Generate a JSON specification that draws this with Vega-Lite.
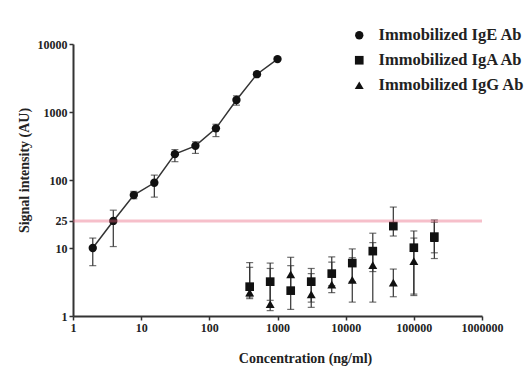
{
  "$schema": "https://vega.github.io/schema/vega-lite/v6.json",
  "autosize": "none",
  "width": 409,
  "height": 272,
  "padding": {"left": 73, "top": 44, "right": 47, "bottom": 53},
  "background": "white",
  "config": {
    "view": {"stroke": null},
    "font": "Liberation Serif",
    "axis": {
      "grid": false,
      "domainColor": "#333",
      "domainWidth": 2,
      "tickColor": "#333",
      "tickWidth": 1.5,
      "tickSize": 4,
      "labelFont": "Liberation Serif",
      "labelFontWeight": "bold",
      "labelFontSize": 12,
      "labelColor": "#222",
      "titleFont": "Liberation Serif",
      "titleFontWeight": "bold",
      "titleFontSize": 14,
      "titleColor": "#222"
    },
    "legend": {
      "labelFont": "Liberation Serif",
      "labelFontWeight": "bold",
      "labelFontSize": 16.5,
      "labelColor": "#222",
      "padding": 0
    }
  },
  "datasets": {
    "pts": [
      {"series": "IgE", "conc": 1.95, "value": 10, "lo": 5.5, "hi": 14},
      {"series": "IgE", "conc": 3.9, "value": 25, "lo": 10.5, "hi": 36},
      {"series": "IgE", "conc": 7.8, "value": 60, "lo": 53, "hi": 68},
      {"series": "IgE", "conc": 15.6, "value": 91, "lo": 56, "hi": 118},
      {"series": "IgE", "conc": 31.25, "value": 240, "lo": 186, "hi": 280},
      {"series": "IgE", "conc": 62.5, "value": 318, "lo": 246, "hi": 365},
      {"series": "IgE", "conc": 125, "value": 575, "lo": 435, "hi": 660},
      {"series": "IgE", "conc": 250, "value": 1500, "lo": 1260, "hi": 1730},
      {"series": "IgE", "conc": 500, "value": 3600, "lo": 3350, "hi": 3850},
      {"series": "IgE", "conc": 1000, "value": 6000, "lo": 5700, "hi": 6300},
      {"series": "IgA", "conc": 390.6, "value": 2.7, "lo": 1.9, "hi": 6.1},
      {"series": "IgA", "conc": 781, "value": 3.2, "lo": 1.7, "hi": 6.0},
      {"series": "IgA", "conc": 1562, "value": 2.36, "lo": 1.25, "hi": 5.5},
      {"series": "IgA", "conc": 3125, "value": 3.2, "lo": 1.6, "hi": 5.0},
      {"series": "IgA", "conc": 6250, "value": 4.2, "lo": 2.8, "hi": 7.4},
      {"series": "IgA", "conc": 12500, "value": 6.0, "lo": 3.2, "hi": 9.7},
      {"series": "IgA", "conc": 25000, "value": 9.0, "lo": 4.5, "hi": 16.5},
      {"series": "IgA", "conc": 50000, "value": 21, "lo": 15, "hi": 40},
      {"series": "IgA", "conc": 100000, "value": 10.1, "lo": 2.1, "hi": 17.8},
      {"series": "IgA", "conc": 200000, "value": 14.7, "lo": 7.0, "hi": 25.8},
      {"series": "IgG", "conc": 390.6, "value": 2.2, "lo": 1.8, "hi": 5.2},
      {"series": "IgG", "conc": 781, "value": 1.5, "lo": 1.2, "hi": 5.0},
      {"series": "IgG", "conc": 1562, "value": 4.1, "lo": 2.2, "hi": 7.3},
      {"series": "IgG", "conc": 3125, "value": 2.08, "lo": 1.34, "hi": 4.2},
      {"series": "IgG", "conc": 6250, "value": 2.9, "lo": 2.2, "hi": 6.2},
      {"series": "IgG", "conc": 12500, "value": 3.4, "lo": 1.6, "hi": 7.2},
      {"series": "IgG", "conc": 25000, "value": 5.6, "lo": 1.6, "hi": 12},
      {"series": "IgG", "conc": 50000, "value": 3.1, "lo": 1.92, "hi": 4.9},
      {"series": "IgG", "conc": 100000, "value": 6.4, "lo": 2.0, "hi": 14},
      {"series": "IgG", "conc": 200000, "value": 14, "lo": 8.5, "hi": 24}
    ],
    "cutoff": [{"level": 25}]
  },
  "layer": [
    {
      "data": {"name": "pts"},
      "mark": {"type": "errorbar", "ticks": {"size": 7, "color": "#333"}, "color": "#333", "thickness": 1.2},
      "encoding": {
        "x": {"field": "conc", "type": "quantitative", "title": "Concentration (ng/ml)", "scale": {"type": "log", "domain": [1, 1000000]}},
        "y": {"field": "lo", "type": "quantitative", "title": "Signal intensity (AU)", "scale": {"type": "log", "domain": [1, 10000]}},
        "y2": {"field": "hi"}
      }
    },
    {
      "data": {"name": "pts"},
      "transform": [{"filter": "datum.series === 'IgE'"}],
      "mark": {"type": "line", "color": "#333", "strokeWidth": 1.5},
      "encoding": {
        "x": {"field": "conc", "type": "quantitative", "title": "Concentration (ng/ml)", "scale": {"type": "log", "domain": [1, 1000000]}},
        "y": {"field": "value", "type": "quantitative", "title": "Signal intensity (AU)", "scale": {"type": "log", "domain": [1, 10000]}}
      }
    },
    {
      "data": {"name": "pts"},
      "mark": {"type": "point", "filled": true, "color": "#111", "opacity": 1},
      "encoding": {
        "x": {
          "field": "conc", "type": "quantitative",
          "title": "Concentration (ng/ml)",
          "scale": {"type": "log", "domain": [1, 1000000]},
          "axis": {"values": [1, 10, 100, 1000, 10000, 100000, 1000000], "format": "d", "titleX": 232, "titlePadding": 18, "labelFlush": false}
        },
        "y": {
          "field": "value", "type": "quantitative",
          "title": "Signal intensity (AU)",
          "scale": {"type": "log", "domain": [1, 10000]},
          "axis": {"values": [1, 10, 25, 100, 1000, 10000], "format": "d", "titleY": 126, "titlePadding": 6, "labelFlush": false}
        },
        "size": {
          "field": "series", "type": "nominal",
          "scale": {"domain": ["IgE", "IgA", "IgG"], "range": [70, 80, 45]}
        },
        "shape": {
          "field": "series", "type": "nominal",
          "scale": {"domain": ["IgE", "IgA", "IgG"], "range": ["circle", "square", "triangle-up"]},
          "legend": {
            "title": null,
            "orient": "none",
            "legendX": 278,
            "legendY": -17,
            "symbolFillColor": "#111",
            "symbolStrokeColor": "#111",
            "rowPadding": 8,
            "labelOffset": 11,
            "labelExpr": "'Immobilized ' + datum.label + ' Ab'"
          }
        }
      }
    },
    {
      "data": {"name": "cutoff"},
      "mark": {"type": "rule", "color": "#e8607a", "opacity": 0.4, "strokeWidth": 3},
      "encoding": {
        "y": {"field": "level", "type": "quantitative", "scale": {"type": "log", "domain": [1, 10000]}}
      }
    }
  ]
}
